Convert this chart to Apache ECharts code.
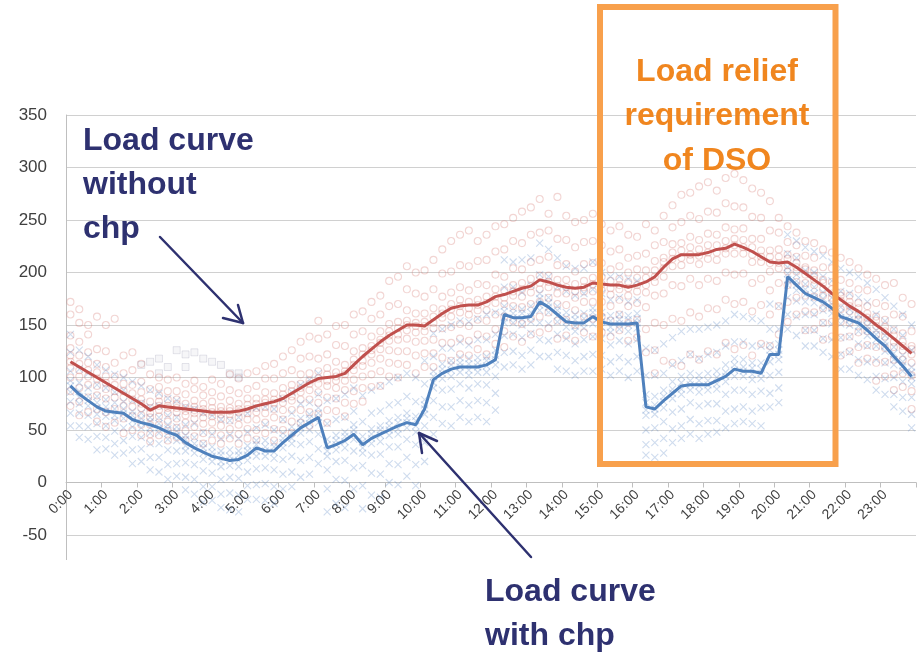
<!DOCTYPE html>
<html><head><meta charset="utf-8">
<script src="https://cdn.jsdelivr.net/npm/echarts@6/dist/echarts.min.js"></script>
<style>html,body{margin:0;padding:0;background:#fff}#c{width:918px;height:653px}</style>
</head><body><div id="c"></div>
<script>
const times = ["0:00","0:15","0:30","0:45","1:00","1:15","1:30","1:45","2:00","2:15","2:30","2:45",
"3:00","3:15","3:30","3:45","4:00","4:15","4:30","4:45","5:00","5:15","5:30","5:45",
"6:00","6:15","6:30","6:45","7:00","7:15","7:30","7:45","8:00","8:15","8:30","8:45",
"9:00","9:15","9:30","9:45","10:00","10:15","10:30","10:45","11:00","11:15","11:30","11:45",
"12:00","12:15","12:30","12:45","13:00","13:15","13:30","13:45","14:00","14:15","14:30","14:45",
"15:00","15:15","15:30","15:45","16:00","16:15","16:30","16:45","17:00","17:15","17:30","17:45",
"18:00","18:15","18:30","18:45","19:00","19:15","19:30","19:45","20:00","20:15","20:30","20:45",
"21:00","21:15","21:30","21:45","22:00","22:15","22:30","22:45","23:00","23:15","23:30","23:45"];

const yTicks = {min:-50, max:350, step:50};

const loadWithoutChp = [115,110,105,100,95,90,85,80,75,69,
73,72,71,70,69,68,67,67,67,68,
70,73,75,77,80,85,90,95,99,100,
101,104,112,120,127,134,140,145,150,150,
149,155,161,166,168,169,169,172,177,179,
182,185,187,193,191,188,186,185,186,190,
189,188,188,186,188,191,196,205,213,217,
217,217,219,222,223,227,224,220,215,210,
209,210,205,199,193,187,180,174,168,163,
157,150,144,137,130,123];

const loadWithChp = [92,84,78,72,68,67,66,60,57,55,
52,48,45,38,33,29,25,23,21,22,
26,33,30,30,38,45,52,57,62,33,
36,40,46,36,42,46,50,54,57,55,
70,98,104,108,110,110,110,112,117,160,
157,157,158,172,167,160,153,152,152,158,
153,151,151,151,152,72,70,78,85,92,
93,93,93,97,101,108,106,106,104,122,
122,196,188,180,176,172,166,158,155,152,
145,137,130,120,111,101];

const cloudWithout = [
[172,160,140,128,121,115,109,100,87,73],[165,152,134,121,113,107,101,90,77,64],[150,141,124,114,107,101,93,81,67],[158,127,113,105,99,92,83,70,58],
[150,125,110,101,95,89,80,67,53],[156,114,101,93,87,81,70,57],[121,104,94,87,81,73,61,47],[124,107,93,85,79,72,63,50],
[113,96,86,79,75,71,64,55,45],[103,89,77,71,66,62,55,46,39],[100,91,83,77,73,69,63,55,45],[98,87,79,73,71,66,58,49,40],
[100,87,79,75,71,67,61,52,43],[94,84,75,71,68,64,57,49,40],[97,89,78,72,69,66,61,53,44],[91,83,75,70,67,62,56,47,37],
[98,86,77,71,67,63,57,49,40],[94,82,72,68,65,61,54,45,37],[103,88,78,71,68,65,59,51,42],[99,85,75,70,67,62,55,46,37],
[104,89,80,74,70,66,60,51,42],[106,92,80,75,71,67,60,50,41],[111,99,86,79,76,72,66,57,47],[113,99,85,79,76,70,62,51,40],
[120,104,90,84,80,76,69,60,50],[126,107,93,87,82,78,69,58,47],[134,118,103,94,90,86,79,69,57],[139,120,104,97,94,88,79,67,54],
[154,137,118,106,99,94,86,76,65],[141,122,109,103,97,92,81,69,57],[149,131,115,105,101,97,90,80,68],[150,130,112,106,103,97,88,76,63],
[160,141,125,117,112,107,98,87,75],[163,144,128,122,116,111,101,90,77],[172,156,139,130,126,122,114,103,91],[178,160,144,136,133,127,118,106,92],
[192,168,151,144,140,135,126,114,101],[196,170,153,147,141,136,125,113,100],[206,184,164,154,150,145,137,125,112],[200,180,161,152,149,143,134,121,104],
[202,177,161,153,149,144,135,123,110],[212,184,166,158,152,147,136,123,110],[222,199,177,165,161,157,147,133,119],[230,201,181,170,165,158,148,133,116],
[236,207,186,174,168,162,151,137,122],[240,206,183,172,166,160,149,135,121],[230,211,189,174,169,164,155,141,127],[236,212,188,177,171,164,154,139,122],
[244,220,198,184,177,171,160,146,132],[246,222,196,183,176,170,158,144,129],[252,230,204,188,182,178,168,154,139],[258,228,203,190,184,177,167,151,134],
[262,236,210,194,187,181,170,156,141],[270,238,212,197,190,184,172,158,143],[256,240,215,197,191,186,176,162,147],[272,232,207,193,187,180,170,154,137],
[254,231,208,193,186,180,169,155,140],[248,224,201,189,182,176,164,150,135],[250,229,208,192,186,182,172,158,143],[256,230,209,195,189,182,172,156,139],
[246,226,209,196,189,183,172,158,143],[240,220,203,192,185,179,168,154,139],[244,222,206,194,188,184,174,160,145],[236,214,200,191,185,178,168,152,135],
[234,216,203,195,188,182,171,155,138],[246,218,202,195,188,181,167,146,124],[240,226,211,202,196,191,178,152,126,104],[254,229,214,210,204,196,180,150,116],
[264,243,227,219,213,206,188,156,114],[274,248,228,221,214,207,187,154,111],[276,254,234,224,217,212,194,162,122],[282,251,231,222,216,208,188,158,117],
[286,258,237,226,219,213,194,166,125],[278,257,236,226,219,212,192,165,122],[290,266,243,230,223,218,200,174,133],[294,263,241,232,226,218,198,170,127],
[288,262,242,231,224,218,199,172,131],[280,253,232,224,217,210,190,163,121],[276,252,232,221,215,210,194,169,132],[268,240,221,215,209,201,183,160,130],
[252,238,222,215,209,204,190,168,141],[244,229,217,213,207,201,188,172,153],[238,226,215,209,205,201,191,176,160],[230,216,205,203,198,190,178,163,145],
[228,214,202,197,193,188,177,162,146],[222,205,193,190,184,178,166,152,136],[219,204,191,184,180,176,167,153,139],[214,193,181,178,173,165,153,138,121],
[210,190,178,172,168,163,152,139,125],[204,184,171,166,160,155,143,129,114],[198,183,168,161,157,153,144,131,118],[194,171,158,154,149,141,129,114,97],
[188,168,155,148,144,139,128,115,101],[190,160,145,140,134,129,117,103,88],[176,158,142,134,130,126,117,104,91],[170,144,130,127,122,114,102,87,70]];

const cloudWith = [
[141,124,106,97,92,86,77,66,54],[126,108,95,87,81,75,66,54,43],[120,104,90,82,78,73,64,53,41],[112,93,82,76,71,65,56,44,31],
[107,90,79,72,68,63,54,43,32],[103,86,76,70,64,59,49,37,26],[100,88,77,70,66,61,52,40,28],[96,78,68,64,59,53,44,31,18],
[92,76,66,61,57,52,43,32,20],[88,72,62,58,52,47,37,24,12],[85,73,62,56,52,47,37,24,10],[80,64,55,51,47,41,31,17,3],
[78,62,53,49,45,40,30,18,6],[72,55,45,41,35,30,19,5,-7],[70,56,43,37,33,28,17,3,-11],[66,48,37,33,28,22,11,-4,-19],
[64,46,34,29,25,20,9,-4,-17],[60,42,30,26,20,15,3,-11,-24],[59,45,31,25,21,16,5,-10,-26],[62,42,30,26,21,15,4,-12,-28],
[66,48,35,30,26,21,10,-3,-16],[71,52,40,36,30,25,13,-2,-16],[72,55,40,34,30,25,14,-1,-17],[70,50,38,34,29,23,12,-4,-20],
[80,60,47,42,38,33,22,8,-6],[86,66,53,48,42,37,25,10,-4],[93,75,61,56,52,47,36,21,5],[98,76,65,61,56,50,39,24,8],
[104,84,71,66,62,57,46,32,18],[78,56,41,36,30,25,12,-6,-28],[80,60,45,40,36,31,20,3,-20],[84,62,48,44,39,33,21,2,-24],
[90,68,55,50,46,41,30,14,-6],[83,58,44,39,33,28,16,-3,-25],[88,66,51,46,42,37,26,9,-12],[92,68,54,50,45,39,27,8,-14],
[96,74,59,54,50,45,34,18,0],[100,76,62,57,51,46,34,17,-2],[104,82,66,61,57,52,41,24,6],[100,77,63,59,54,48,36,17,-3],
[116,94,79,74,70,65,54,38,20],[142,120,106,101,95,90,78,62,46],[146,128,113,108,104,99,88,72,56],[150,128,116,112,107,101,89,72,54],
[154,134,119,114,110,105,94,78,62],[153,131,118,113,107,102,90,74,58],[156,136,119,114,110,105,94,78,62],[160,136,120,116,111,105,93,76,58],
[162,141,126,121,117,112,101,85,69],[212,186,168,163,157,152,140,124,110],[210,186,166,161,157,152,141,125,112],[212,181,165,161,156,150,138,121,108],
[214,188,168,162,158,153,142,126,112],[228,198,180,175,169,164,152,136,120],[222,196,176,171,167,162,151,135,120],[214,186,168,164,159,153,141,124,108],
[206,182,162,157,153,148,137,121,106],[204,178,160,155,149,144,132,116,102],[204,180,161,156,152,147,136,120,106],[210,184,166,162,157,151,139,122,106],
[200,180,162,157,153,148,137,121,108],[196,174,159,154,148,143,131,115,102],[196,176,160,155,151,146,135,119,106],[194,172,159,155,150,144,132,115,100],
[192,174,161,156,152,147,136,120,106],[128,102,84,76,69,64,50,36,26],[126,102,82,74,70,65,52,38,24],[132,104,88,82,77,71,58,42,28],
[138,112,96,89,85,80,67,51,38],[144,116,101,95,89,84,70,54,42],[146,122,104,97,93,88,76,60,46],[146,118,102,97,92,86,73,56,42],
[148,122,104,97,93,88,75,59,46],[150,124,106,100,94,89,75,59,48],[154,130,112,105,101,96,84,68,52],[160,134,118,112,107,101,88,70,56],
[158,134,117,110,106,101,88,72,58],[156,130,114,109,103,98,84,68,56],[154,130,114,108,104,99,87,71,54],[170,146,131,126,121,115,102,85,72],
[168,146,132,126,122,117,105,90,76],[236,218,205,199,193,188,176,160,146],[230,214,198,192,188,183,173,158,140],[224,202,189,184,179,172,160,145,130],
[220,200,186,180,176,171,160,145,130],[216,196,181,175,169,164,152,137,124],[210,192,176,170,166,161,151,136,120],[204,182,167,162,157,151,138,122,108],
[200,180,165,159,155,150,139,124,108],[196,176,160,155,149,144,132,117,102],[190,172,155,149,145,140,130,115,98],[184,160,145,141,136,130,117,101,88],
[176,154,140,134,130,125,114,99,84],[168,146,129,123,117,112,100,84,72],[160,140,121,115,111,106,96,81,68],[150,126,110,105,100,94,81,65,52]];

const squareIdx = [8,9,10,10,11,12,13,13,14,15,16,17,18,19,19];
const squareVal = [112,115,118,104,110,126,122,110,124,118,115,112,104,104,100];

function cloudPoints(cloud){
  const out=[];
  cloud.forEach((vals,i)=>vals.forEach(v=>out.push([i,v])));
  return out;
}

const NAVY = '#2E3170';
const ORANGE_TXT = '#F0861F';
const ORANGE_BOX = '#F8A04C';
const FONT = 'bold 32px "Liberation Sans", Arial, sans-serif';

function txt(text,x,y,color,align){
  return {type:'text', z:100, x:x, y:y, style:{text:text, fill:color, font:FONT, textAlign:align||'left', textVerticalAlign:'middle'}};
}
function seg(x1,y1,x2,y2){
  return {type:'line', z:100, shape:{x1,y1,x2,y2}, style:{stroke:NAVY, lineWidth:2.5, lineCap:'round'}};
}

const chart = echarts.init(document.getElementById('c'), null, {renderer:'canvas'});
chart.setOption({
  animation:false,
  backgroundColor:'#fff',
  grid:{left:66, right:2, top:115, bottom:118, containLabel:false},
  xAxis:{type:'category', data:times, boundaryGap:true, offset:-52.5,
    axisLine:{show:true, onZero:false, lineStyle:{color:'#BFBFBF', width:1}},
    axisTick:{show:true, interval:3, length:5, lineStyle:{color:'#BFBFBF'}},
    axisLabel:{interval:3, rotate:45, fontSize:14, color:'#404040', margin:10, fontFamily:'"Liberation Sans", Arial, sans-serif'},
    splitLine:{show:false}},
  yAxis:{type:'value', min:yTicks.min, max:yTicks.max, interval:yTicks.step,
    axisLine:{show:true, lineStyle:{color:'#BFBFBF'}},
    axisTick:{show:false},
    axisLabel:{fontSize:17, color:'#404040', margin:19, fontFamily:'"Liberation Sans", Arial, sans-serif'},
    splitLine:{lineStyle:{color:'#D0D0D0', width:1}}},
  series:[
    {type:'scatter', name:'without chp (days)', data:cloudPoints(cloudWithout), symbol:'circle', symbolSize:7, z:2,
      itemStyle:{color:'transparent', borderColor:'rgba(210,110,105,0.36)', borderWidth:1.1}},
    {type:'scatter', name:'with chp (days)', data:cloudPoints(cloudWith), symbol:'path://M0 0L10 10M10 0L0 10', symbolSize:7, z:3,
      itemStyle:{color:'transparent', borderColor:'rgba(90,135,195,0.36)', borderWidth:1.1}},
    {type:'scatter', name:'other', data:squareIdx.map((x,k)=>[x,squareVal[k]]), symbol:'rect', symbolSize:7, z:3,
      itemStyle:{color:'rgba(150,150,170,0.1)', borderColor:'rgba(130,130,160,0.25)', borderWidth:1}},
    {type:'line', name:'Load curve without chp', data:loadWithoutChp, symbol:'none', z:5,
      lineStyle:{color:'#C0504D', width:3}},
    {type:'line', name:'Load curve with chp', data:loadWithChp, symbol:'none', z:6,
      lineStyle:{color:'#4F81BD', width:3}}
  ],
  graphic:[
    {type:'line', z:1, shape:{x1:66.5, y1:535, x2:66.5, y2:560}, style:{stroke:'#BFBFBF', lineWidth:1}},
    {type:'rect', z:100, shape:{x:600, y:7, width:235.5, height:457}, style:{fill:'none', stroke:ORANGE_BOX, lineWidth:6}},
    txt('Load relief',717,72,ORANGE_TXT,'center'),
    txt('requirement',717,116,ORANGE_TXT,'center'),
    txt('of DSO',717,161,ORANGE_TXT,'center'),
    txt('Load curve',83,141,NAVY),
    txt('without',83,185,NAVY),
    txt('chp',83,229,NAVY),
    txt('Load curve',485,592,NAVY),
    txt('with chp',485,636,NAVY),
    seg(160,237,243,323), seg(243,323,223,318), seg(243,323,238,305),
    seg(531,557,419,433), seg(419,433,422,453), seg(419,433,437,441)
  ]
});
</script></body></html>
